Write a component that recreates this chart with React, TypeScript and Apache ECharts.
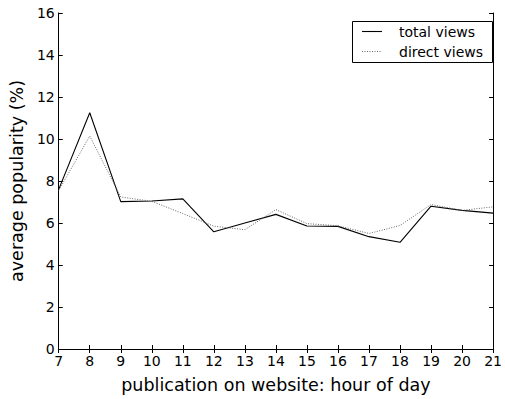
import React, { useEffect, useRef } from "react";
import * as echarts from "echarts";

const hours = [7, 8, 9, 10, 11, 12, 13, 14, 15, 16, 17, 18, 19, 20, 21];
const totalViews = [7.6, 11.25, 7.02, 7.05, 7.15, 5.58, 6.0, 6.41, 5.86, 5.84, 5.35, 5.08, 6.8, 6.6, 6.47];
const directViews = [7.55, 10.14, 7.24, 7.03, 6.45, 5.85, 5.68, 6.64, 5.97, 5.87, 5.5, 5.88, 6.88, 6.6, 6.77];
const seriesNames = ["total views", "direct views"];
const xTitle = "publication on website: hour of day";
const yTitle = "average popularity (%)";

const FONT = "DejaVu Sans";

export default function App() {
  const ref = useRef<HTMLDivElement>(null);
  useEffect(() => {
    if (!ref.current) return;
    const chart = echarts.init(ref.current, null, { renderer: "svg" });
    const axisLine = { show: true, lineStyle: { color: "#000", width: 1 } };
    const tick = { show: true, inside: true, length: 4, lineStyle: { color: "#000", width: 1 } };
    const label = { color: "#000", fontFamily: FONT, fontSize: 14 };
    chart.setOption({
      animation: false,
      backgroundColor: "#fff",
      grid: { left: 54, top: 13, width: 441, height: 341, containLabel: false },
      xAxis: [
        {
          type: "value", min: 7, max: 21, interval: 1, position: "bottom",
          axisLine, axisTick: tick, splitLine: { show: false },
          axisLabel: { ...label, margin: 5 },
          name: xTitle, nameLocation: "middle", nameGap: 27,
          nameTextStyle: { color: "#000", fontFamily: FONT, fontSize: 17.5 },
        },
        {
          type: "value", min: 7, max: 21, interval: 1, position: "top",
          axisLine, axisTick: tick, splitLine: { show: false }, axisLabel: { show: false },
        },
      ],
      yAxis: [
        {
          type: "value", min: 0, max: 16, interval: 2, position: "left",
          axisLine, axisTick: tick, splitLine: { show: false },
          axisLabel: { ...label, margin: 4 },
          name: yTitle, nameLocation: "middle", nameGap: 23,
          nameTextStyle: { color: "#000", fontFamily: FONT, fontSize: 17.5 },
        },
        {
          type: "value", min: 0, max: 16, interval: 2, position: "right",
          axisLine, axisTick: tick, splitLine: { show: false }, axisLabel: { show: false },
        },
      ],
      series: [
        {
          name: seriesNames[0], type: "line", symbol: "none",
          data: hours.map((h, i) => [h, totalViews[i]]),
          lineStyle: { color: "#000", width: 1.1 },
        },
        {
          name: seriesNames[1], type: "line", symbol: "none",
          data: hours.map((h, i) => [h, directViews[i]]),
          lineStyle: { color: "#666", width: 1, type: [1, 1.5] },
        },
      ],
      graphic: [
        { type: "rect", shape: { x: 352.5, y: 21.5, width: 140, height: 41 }, style: { fill: "#fff", stroke: "#000", lineWidth: 1 }, z: 100 },
        { type: "line", shape: { x1: 362, y1: 31.5, x2: 382, y2: 31.5 }, style: { stroke: "#000", lineWidth: 1.1 }, z: 101 },
        { type: "line", shape: { x1: 362, y1: 51.5, x2: 382, y2: 51.5 }, style: { stroke: "#666", lineWidth: 1, lineDash: [1, 1.5] }, z: 101 },
        { type: "text", x: 399, y: 31.5, style: { text: seriesNames[0], fill: "#000", font: `14px "${FONT}"`, textVerticalAlign: "middle" }, z: 101 },
        { type: "text", x: 399, y: 51.5, style: { text: seriesNames[1], fill: "#000", font: `14px "${FONT}"`, textVerticalAlign: "middle" }, z: 101 },
      ],
    });
    return () => chart.dispose();
  }, []);
  return <div ref={ref} style={{ position: "absolute", left: 0, top: 0, width: 505, height: 399 }} />;
}
